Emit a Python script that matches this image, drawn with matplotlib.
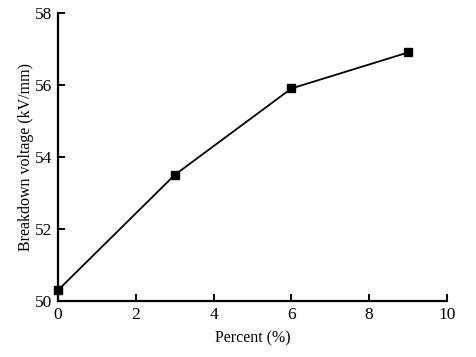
import matplotlib
matplotlib.use("Agg")
import matplotlib.pyplot as plt

percent = [0, 3, 6, 9]
voltage = [50.3, 53.5, 55.9, 56.9]

plt.rcParams['font.family'] = ['Liberation Serif', 'DejaVu Serif']

fig = plt.figure(figsize=(4.76, 3.57), dpi=100)
ax = fig.add_axes([0.122, 0.157, 0.817, 0.807])

ax.plot(percent, voltage, color='black', lw=1.3, marker='s', ms=6, clip_on=False, zorder=3)

ax.set_xlim(0, 10)
ax.set_ylim(50, 58)
ax.set_xticks([0, 2, 4, 6, 8, 10])
ax.set_yticks([50, 52, 54, 56, 58])
ax.spines['top'].set_visible(False)
ax.spines['right'].set_visible(False)
ax.spines['left'].set_linewidth(1.6)
ax.spines['bottom'].set_linewidth(1.6)
ax.tick_params(direction='in', length=5, width=1.4, labelsize=12.5, pad=4)

ax.set_xlabel('Percent (%)', fontsize=11.5, labelpad=6)
ax.set_ylabel('Breakdown voltage (kV/mm)', fontsize=11.5, labelpad=1)

fig.savefig('out.png', dpi=100)
